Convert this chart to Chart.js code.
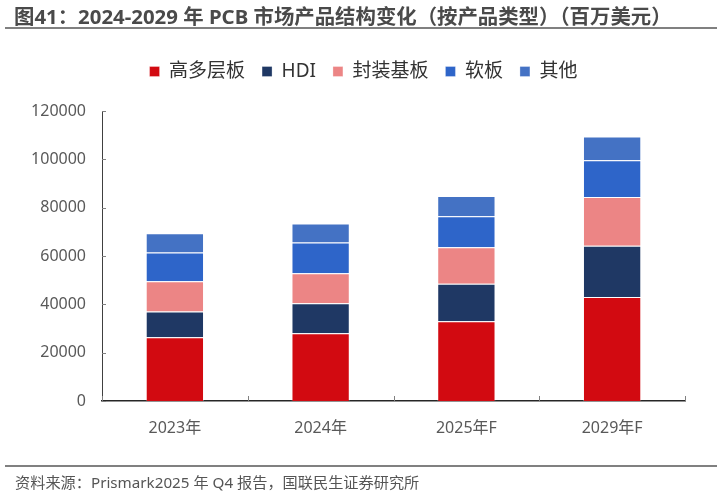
<!DOCTYPE html>
<html>
<head>
<meta charset="utf-8">
<script src="https://cdn.jsdelivr.net/npm/chart.js@4"></script>
<style>
  html, body { margin: 0; padding: 0; background: #fff; }
  #wrap { position: relative; width: 720px; height: 494px; overflow: hidden; font-family: "Noto Sans", "Noto Sans CJK SC", sans-serif; }
  #title { position: absolute; left: 14px; top: 4px; font-size: 20.4px; line-height: 24px; font-weight: bold; color: #4a4a4a; white-space: nowrap; }
  .rule { position: absolute; left: 5px; width: 712px; height: 2px; background: #808080; }
  #footer { position: absolute; left: 15px; top: 473px; font-size: 15.2px; line-height: 18px; color: #555; white-space: nowrap; }
  canvas { position: absolute; left: 0; top: 0; }
</style>
</head>
<body>
<div id="wrap">
  <canvas id="c" width="720" height="494"></canvas>
  <div id="title">图41：2024-2029 年 PCB 市场产品结构变化（按产品类型）（百万美元）</div>
  <div class="rule" style="top:27px"></div>
  <div class="rule" style="top:465px"></div>
  <div id="footer">资料来源：Prismark2025 年 Q4 报告，国联民生证券研究所</div>
</div>
<script>
const categories = ['2023年', '2024年', '2025年F', '2029年F'];
const seriesNames = ['高多层板', 'HDI', '封装基板', '软板', '其他'];
const highLayer = [26400, 28000, 33000, 43000];
const hdi = [10600, 12400, 15500, 21200];
const substrate = [12600, 12500, 15100, 20200];
const flex = [11800, 12700, 12800, 15200];
const others = [8000, 7900, 8400, 9800];
const yTicks = [0, 20000, 40000, 60000, 80000, 100000, 120000];

const colors = ['#D20A11', '#1F3864', '#EC8585', '#2E65C9', '#4472C4'];
const seriesData = [highLayer, hdi, substrate, flex, others];

const FONT = '"Noto Sans", "Noto Sans CJK SC", sans-serif';

const innerTicks = {
  id: 'innerTicks',
  afterDatasetsDraw(chart) {
    const ctx = chart.ctx;
    const x = chart.scales.x, y = chart.scales.y;
    ctx.save();
    ctx.strokeStyle = '#808080';
    ctx.lineWidth = 1;
    ctx.beginPath();
    yTicks.forEach(v => {
      const py = Math.round(y.getPixelForValue(v)) + 0.5;
      ctx.moveTo(x.left, py);
      ctx.lineTo(x.left + 4, py);
    });
    for (let i = 0; i <= categories.length; i++) {
      const px = Math.round(x.getPixelForValue(i - 0.5)) + 0.5;
      ctx.moveTo(px, y.bottom);
      ctx.lineTo(px, y.bottom - 5);
    }
    ctx.stroke();
    ctx.restore();
  }
};

const legendTweak = {
  id: 'legendTweak',
  afterInit(chart) {
    const lg = chart.legend;
    const fit = lg.fit;
    lg.fit = function () { fit.call(this); this.height = 66; };
    const draw = lg.draw;
    lg.draw = function () {
      const ctx = this.ctx;
      ctx.save();
      ctx.translate(21, 0);
      draw.apply(this, arguments);
      ctx.restore();
    };
  }
};

new Chart(document.getElementById('c'), {
  type: 'bar',
  data: {
    labels: categories,
    datasets: seriesNames.map((n, i) => ({
      label: n,
      data: seriesData[i],
      backgroundColor: colors[i],
      borderColor: 'rgba(255,255,255,0.3)',
      borderWidth: 1,
      barPercentage: 0.4,
      categoryPercentage: 1.0
    }))
  },
  options: {
    responsive: false,
    animation: false,
    layout: { padding: { top: 45, right: 35, left: 0, bottom: 0 } },
    plugins: {
      title: { display: false },
      tooltip: { enabled: false },
      legend: {
        position: 'top',
        align: 'center',
        labels: {
          boxWidth: 10,
          boxHeight: 10,
          padding: 17,
          color: '#333',
          font: { family: FONT, size: 19 }
        }
      }
    },
    scales: {
      x: {
        stacked: true,
        grid: { display: false },
        border: { display: true, color: '#262626', width: 1.5 },
        ticks: { color: '#595959', padding: 10, font: { family: FONT, size: 16 } },
        afterFit(s) { s.height = 93; }
      },
      y: {
        stacked: true,
        min: 0,
        max: 120000,
        grid: { display: false },
        border: { display: true, color: '#404040', width: 1 },
        ticks: {
          stepSize: 20000,
          color: '#595959',
          padding: 8,
          font: { family: FONT, size: 16 },
          callback: v => String(v)
        },
        afterBuildTicks(s) { s.ticks = yTicks.map(v => ({ value: v })); },
        afterFit(s) { s.width = 102; }
      }
    }
  },
  plugins: [innerTicks, legendTweak]
});
</script>
</body>
</html>
